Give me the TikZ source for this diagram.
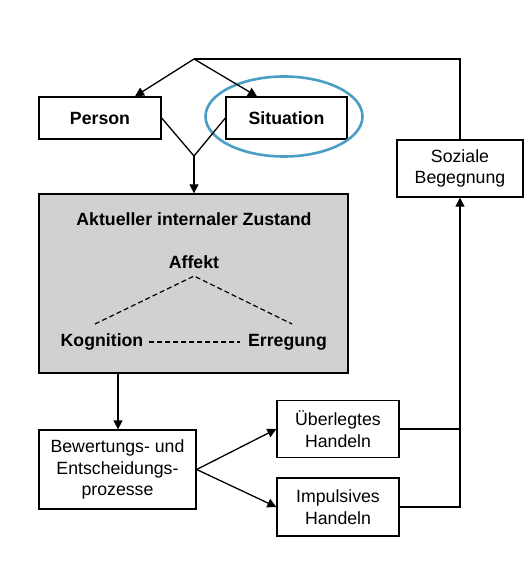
\documentclass[tikz,border=0pt]{standalone}
\usepackage{fontspec}
\setmainfont{Liberation Sans}
\usetikzlibrary{arrows.meta}
\definecolor{boxgray}{RGB}{209,209,211}
\definecolor{ellblue}{RGB}{74,158,196}
\begin{document}
\begin{tikzpicture}[x=1pt,y=-1pt,
  every node/.style={font=\fontsize{17.7}{21.5}\selectfont, inner sep=0pt, align=center},
  bold/.style={font=\fontsize{17.7}{21.5}\selectfont\bfseries},
  box/.style={draw, line width=1.3pt, minimum width=#1},
  conn/.style={line width=1.3pt},
  arr/.style={conn, -{Triangle[length=9pt,width=9pt]}},
  dash line/.style={line width=1.2pt, dash pattern=on 5pt off 3pt}]
\useasboundingbox (0,0) rectangle (528,585);
\node[box=122pt, minimum height=42pt, bold] (person) at (100,118) {Person};
\node[box=121pt, minimum height=42pt, bold] (sit) at (286.5,118) {Situation};
\node[box=126pt, minimum height=57pt] (soz) at (460,168.5) {Soziale\\Begegnung};
\node[box=309pt, minimum height=179pt, fill=boxgray] (zust) at (193.5,283.5) {};
\node[bold] (title) at (194,219) {Aktueller internaler Zustand};
\node[bold] (affekt) at (194,262) {Affekt};
\node[bold] (kog) at (102,342) {Kognition};
\node[bold] (erreg) at (287.5,342) {Erregung};
\node[box=157pt, minimum height=79pt] (bew) at (117.5,469.5) {Bewertungs- und\\Entscheidungs-\\prozesse};
\node[box=122pt, minimum height=57pt] (ueb) at (338,429) {Überlegtes\\Handeln};
\node[box=122pt, minimum height=58pt] (imp) at (338,507) {Impulsives\\Handeln};
\draw[ellblue, line width=2.6pt] (284,116.5) ellipse [x radius=78.5pt, y radius=40pt];
% inner dashed triangle
\coordinate (apexA) at (194,276);
\coordinate (kogE) at (95,324);
\coordinate (errE) at (292,324);
\coordinate (midL) at (149,342);
\coordinate (midR) at (240,342);
\draw[dash line] (kogE) -- (apexA) -- (errE);
\draw[dash line] (midL) -- (midR);
% top feedback
\coordinate (apex) at (194,59);
\coordinate (join) at (194,156);
\draw[conn] (soz.north) |- (apex);
\draw[arr] (apex) -- (person.north -| 135,0);
\draw[arr] (apex) -- (sit.north -| 257,0);
\draw[conn] (person.east) -- (join) -- (sit.west);
\draw[arr] (join) -- (zust.north -| join);
\draw[arr] (zust.south -| 118,0) -- (bew.north -| 118,0);
\draw[arr] (bew.east) -- (ueb.west);
\draw[arr] (bew.east) -- (imp.west);
\draw[conn] (ueb.east) -- (ueb.east -| soz.south);
\draw[arr] (imp.east) -| (soz.south);
\end{tikzpicture}
\end{document}
